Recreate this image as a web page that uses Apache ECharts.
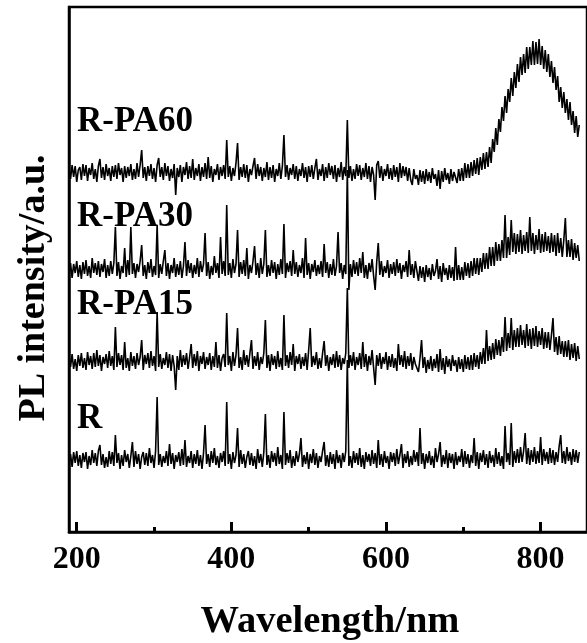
<!DOCTYPE html>
<html>
<head>
<meta charset="utf-8">
<script src="https://cdn.jsdelivr.net/npm/echarts@6/dist/echarts.min.js"></script>
<style>
html,body{margin:0;padding:0;background:#fff;}
#chart{width:587px;height:643px;}
</style>
</head>
<body>
<div id="chart"></div>
<script>
// Sampling of the spectra (nm)
const wavelengthStart = 190;
const wavelengthStep = 2;

// Series names and vertical stacking offsets
const seriesNames = ['R', 'R-PA15', 'R-PA30', 'R-PA60'];
const seriesOffsets = [72, 170, 262, 359];

// Tick labels
const majorTicks = [200, 400, 600, 800];
const minorTicks = [300, 500, 700];

// PL intensity (a.u.), one value per sample
const valuesR = [
 -4,6,-7,8,-3,9,-6,5,-8,7,
 -2,8,-9,4,-5,10,-3,7,-6,9,
 15,-5,6,-8,3,-7,9,-4,8,-6,
 25,-3,7,-9,5,-6,10,-2,6,-8,
 4,18,-7,9,-4,6,-9,3,8,-5,
 7,-6,12,-3,5,-8,9,63,-5,6,
 -7,4,-3,9,-6,16,-4,7,-9,5,
 -2,8,-6,11,-5,20,-7,4,-3,9,
 -8,6,-4,10,-6,5,-9,7,35,-4,
 6,-7,9,-3,12,-5,4,-8,7,-2,
 9,-6,58,-4,6,-9,8,-3,5,32,
 -7,10,-4,6,-8,3,9,-5,7,-6,
 4,-9,11,-3,6,-7,8,46,-5,5,
 -8,9,-2,7,-6,13,-4,5,-9,48,
 -5,7,-3,10,-8,4,-6,9,-2,6,
 22,-7,5,-4,8,-9,6,-3,11,-5,
 7,-8,4,-2,9,18,-6,5,-7,8,
 -4,6,-9,10,-3,5,-8,7,-2,9,
 100,-6,4,-8,9,-3,7,-5,12,-7,
 5,-9,8,-2,6,-6,10,-4,7,-8,
 20,-5,6,-7,9,-3,4,-9,8,-2,
 7,-6,11,-4,5,16,-8,6,-3,9,
 -7,4,-5,10,-2,8,-6,32,-4,7,
 -9,6,-3,9,-5,4,-8,12,-2,6,
 18,-7,5,-4,10,-8,7,-3,6,-9,
 8,-5,4,-2,11,-7,9,-4,6,-8,
 5,-3,22,-6,8,-9,7,-2,10,-5,
 6,-8,9,-3,5,-7,12,-4,8,-6,
 4,-9,34,-2,7,-5,37,-7,9,-3,
 11,-3,13,-2,9,27,-4,12,-5,10,
 -2,13,-4,9,-3,23,-5,11,-1,8,
 -4,12,-3,10,-5,8,-2,14,25,-3,
 9,-4,13,-1,8,-5,11,-2,10,-3,
 8
];
const valuesRPA15 = [
 6,-5,8,-7,3,-9,7,-4,9,-6,
 4,-8,10,-3,6,-7,9,-5,12,-4,
 7,-9,5,-2,8,-6,11,-4,6,-8,
 35,-5,9,-3,7,-8,20,-6,4,-9,
 10,-4,6,-7,9,-3,5,22,-8,7,
 -2,9,-6,11,-4,6,-9,50,-5,8,
 -7,4,-3,10,-6,8,-9,7,-4,-28,
 6,-8,12,-5,7,-3,9,-7,5,18,
 -6,8,-4,11,-9,6,-2,10,-7,5,
 -3,9,-8,6,-5,20,-6,7,-9,4,
 8,-5,49,-3,6,-9,10,-4,7,34,
 -6,5,-8,12,-3,7,-5,9,22,-7,
 6,-4,10,-8,5,-2,9,42,-6,7,
 -9,8,-3,6,-7,11,-5,4,-8,47,
 -4,7,-6,10,-3,18,-9,6,-2,8,
 -7,5,-4,9,-8,12,34,-5,6,-3,
 10,-7,4,-6,9,21,-4,7,-9,5,
 -3,8,-6,11,-5,7,-8,4,-2,9,
 74,-6,7,-4,10,-8,5,-3,9,-7,
 20,-5,8,-9,6,-3,12,-6,-23,7,
 -4,9,-7,5,-2,10,-8,6,-5,8,
 -6,4,-9,18,-3,7,-5,11,-7,6,
 -4,9,-8,5,-2,-1,-10,4,22,-6,
 5,-11,2,-7,6,-9,3,-6,8,-10,
 13,-8,4,-12,6,-5,3,-9,7,-4,
 2,-10,5,-7,3,-10,7,-7,5,-8,
 7,-8,9,-5,7,-7,10,-2,14,-2,
 32,1,16,2,19,3,23,7,22,6,
 25,10,45,11,29,14,44,12,32,15,
 34,15,37,17,32,14,38,16,33,13,
 34,16,36,15,31,17,34,13,30,14,
 30,12,27,44,10,25,7,26,8,21,
 5,21,5,22,2,18,4,19,1,16,
 3
];
const valuesRPA30 = [
 -5,7,-8,6,-3,9,-7,5,-9,8,
 -4,10,-6,4,-8,12,-3,7,-5,9,
 -7,6,-2,11,-8,5,-6,9,-4,7,
 43,-6,8,-9,4,-3,22,-7,10,-5,
 43,-4,7,-8,6,-2,9,25,-6,5,
 -9,8,-3,11,-7,4,-5,45,-8,6,
 -4,9,20,-6,7,-9,5,-3,12,-7,
 6,-5,9,-8,4,28,-6,10,-3,7,
 -8,5,-4,12,-7,9,-2,6,37,-6,
 8,-9,4,-5,14,-3,7,-8,33,-4,
 9,-6,65,-5,7,-8,11,-3,6,40,
 -7,8,-4,10,-6,22,-9,5,-3,9,
 24,-5,7,-8,12,-4,6,40,-7,5,
 -6,10,-3,8,-9,6,-5,11,-4,46,
 -8,7,-2,9,-6,20,-4,8,-7,5,
 -3,12,-8,32,-5,7,-9,6,-2,10,
 -6,5,-4,9,-7,26,-3,8,-8,6,
 -5,11,-6,4,38,-3,7,-9,5,-4,
 100,-20,6,-7,10,-4,8,-6,12,-3,
 18,-8,5,-9,7,-2,11,-6,-20,8,
 27,-5,9,-7,4,-3,10,-8,6,-4,
 8,-6,11,-3,7,-9,5,-2,9,-7,
 20,-5,6,-8,9,-1,-11,4,-8,3,
 -12,5,-7,2,-10,6,-6,-1,11,-9,
 4,-12,7,-5,2,-10,5,-8,3,-11,
 23,-10,5,-10,3,-10,8,-6,7,-8,
 9,-6,12,-4,12,-5,12,-2,17,1,
 17,1,23,4,23,4,28,9,26,9,
 30,12,55,12,33,15,50,18,37,16,
 36,18,40,16,35,19,38,17,53,19,
 37,16,35,20,41,17,36,18,38,19,
 34,17,37,18,35,14,37,17,32,13,
 30,52,13,30,13,31,10,27,12,25,
 9
];
const valuesRPA60 = [
 5,-6,8,-4,7,-9,3,6,-7,9,
 -3,8,-8,5,-2,10,-6,4,-9,7,
 14,-5,6,-7,9,-3,5,-8,7,-4,
 8,-6,10,-2,5,-9,7,-5,6,-3,
 9,-7,4,-6,10,-4,8,23,-5,6,
 -8,7,-3,9,-6,5,-9,8,15,-4,
 6,-7,10,-3,7,-8,4,-5,9,-22,
 5,-4,8,-9,6,-2,11,-6,7,-5,
 14,-7,5,-3,9,-8,6,-4,10,-6,
 16,-5,7,-9,4,-2,9,-7,6,-3,
 8,-6,33,-4,7,-8,5,-3,10,30,
 -7,6,-4,9,-5,8,-9,4,-2,7,
 15,-6,9,-3,6,-8,5,-4,11,-7,
 6,-5,8,-9,4,-3,10,-6,7,38,
 -4,8,-7,5,-2,9,-6,7,-8,4,
 -3,10,-5,6,-9,7,-4,8,-6,5,
 14,-7,4,-3,9,-8,6,-5,10,-2,
 7,-6,8,-9,5,-4,11,-7,6,-3,
 53,-5,7,-8,4,-6,9,-3,8,-7,
 5,-4,10,-6,7,-9,6,-2,-27,8,
 12,-5,7,-8,4,-3,9,-6,5,-7,
 8,-4,6,-9,10,-5,7,-3,6,-8,
 5,-7,-12,4,-6,-2,-12,3,-9,2,
 -11,4,-8,1,-10,5,-6,-1,-13,3,
 -16,2,-9,5,-7,0,-11,4,-8,1,
 2,-10,4,-8,5,-8,10,-5,9,-5,
 11,-3,13,-1,15,-2,16,3,20,4,
 21,6,26,10,34,21,45,28,54,41,
 66,52,77,60,84,71,95,77,101,85,
 109,91,116,98,119,100,126,104,126,108,
 132,108,131,109,134,108,127,104,123,101,
 119,96,112,90,106,83,97,71,86,65,
 81,60,74,53,71,48,62,40,57,36,
 48
];
const seriesValues = [valuesR, valuesRPA15, valuesRPA30, valuesRPA60];

const FONT = '"Liberation Serif", "Times New Roman", serif';

const series = seriesValues.map(function (vals, k) {
  return {
    name: seriesNames[k],
    type: 'line',
    showSymbol: false,
    symbol: 'none',
    animation: false,
    clip: true,
    lineStyle: { color: '#000', width: 1.6 },
    data: vals.map(function (v, i) {
      return [wavelengthStart + wavelengthStep * i, v + seriesOffsets[k]];
    })
  };
});

const chart = echarts.init(document.getElementById('chart'), null, { renderer: 'canvas' });
const labelTops = { 'R-PA60': 104, 'R-PA30': 199, 'R-PA15': 287, 'R': 401 };

chart.setOption({
  animation: false,
  backgroundColor: '#fff',
  grid: {
    left: 69, top: 7, right: -7, bottom: 111,
    show: true, borderColor: '#000', borderWidth: 2.5, backgroundColor: 'transparent'
  },
  xAxis: [{
    type: 'value', min: 190, max: 860, position: 'bottom',
    axisLine: { show: true, lineStyle: { color: '#000', width: 2.5 } },
    axisTick: { show: true, inside: true, length: 10, customValues: majorTicks,
      lineStyle: { color: '#000', width: 3 } },
    axisLabel: { show: true, customValues: majorTicks, margin: 12, color: '#000',
      fontFamily: FONT, fontWeight: 'bold', fontSize: 32 },
    splitLine: { show: false }
  }, {
    type: 'value', min: 190, max: 860, position: 'bottom', gridIndex: 0,
    axisLine: { show: false },
    axisTick: { show: true, inside: true, length: 5, customValues: minorTicks,
      lineStyle: { color: '#000', width: 3 } },
    axisLabel: { show: false },
    splitLine: { show: false }
  }],
  yAxis: {
    type: 'value', min: 0, max: 525,
    axisLine: { show: true, lineStyle: { color: '#000', width: 2.5 } },
    axisTick: { show: false }, axisLabel: { show: false }, splitLine: { show: false }
  },
  series: series,
  graphic: [
    { type: 'text', x: 330, y: 603, z: 10,
      style: { text: 'Wavelength/nm', font: 'bold 38.5px ' + FONT, fill: '#000', align: 'center', verticalAlign: 'top' } },
    { type: 'text', x: 34, y: 288, rotation: Math.PI / 2, z: 10,
      style: { text: 'PL intensity/a.u.', font: 'bold 38px ' + FONT, fill: '#000',
        align: 'center', verticalAlign: 'middle' } }
  ].concat(seriesNames.map(function (n) {
    return { type: 'text', x: 77, y: labelTops[n], z: 10,
      style: { text: n, font: 'bold 35px ' + FONT, fill: '#000', align: 'left', verticalAlign: 'top' } };
  }))
});
</script>
</body>
</html>
